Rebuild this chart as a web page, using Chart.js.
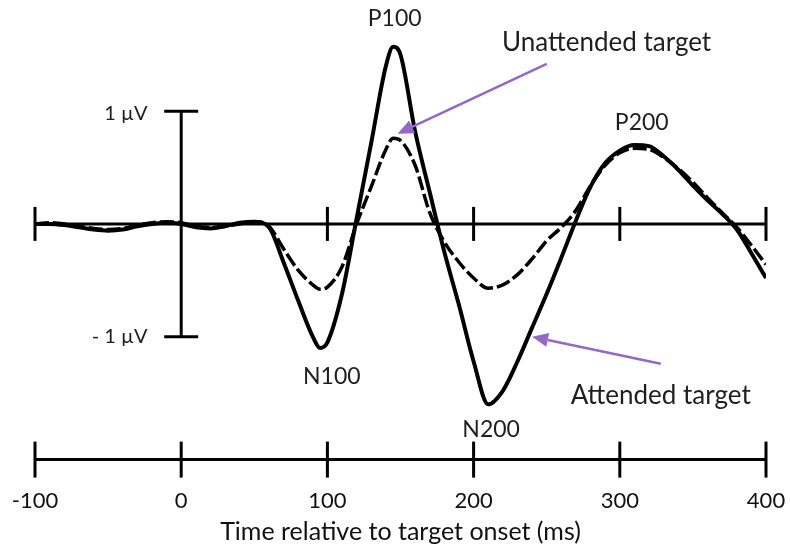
<!DOCTYPE html>
<html>
<head>
<meta charset="utf-8">
<script src="https://cdn.jsdelivr.net/npm/chart.js@4.4.1/dist/chart.umd.min.js"></script>
<style>
  body { margin: 0; background: #fff; }
  #erpChart { display: block; }
</style>
</head>
<body>
<canvas id="erpChart" width="790" height="551"></canvas>
<script>
// time points (ms) and amplitudes (µV)
var times = [-100, -90, -80, -70, -60, -50, -40, -30, -20, -10, 0, 10, 20, 30, 40, 50, 60, 70, 80, 90, 95,
  100, 110, 120, 130, 140, 145, 150, 160, 170, 180, 190, 200, 210, 220, 230, 240, 250, 260, 270, 280,
  290, 300, 310, 320, 330, 340, 350, 360, 370, 380, 390, 400];
var attended = [0.0, 0.0, -0.01, -0.03, -0.05, -0.06, -0.05, -0.02, 0.0, 0.01, 0.0, -0.03, -0.04, -0.02, 0.01, 0.02, -0.03, -0.34, -0.68, -1.00, -1.10,
  -1.05, -0.62, 0.05, 0.72, 1.40, 1.57, 1.50, 0.82, 0.28, -0.25, -0.72, -1.22, -1.60, -1.48, -1.22, -0.92, -0.62, -0.30, 0.03, 0.33,
  0.54, 0.65, 0.70, 0.69, 0.60, 0.48, 0.34, 0.21, 0.09, -0.05, -0.26, -0.48];
var unattended = [0.0, 0.01, 0.0, -0.02, -0.04, -0.05, -0.04, -0.01, 0.01, 0.02, 0.01, -0.02, -0.03, -0.02, 0.0, 0.02, -0.02, -0.22, -0.41, -0.54, -0.58,
  -0.56, -0.38, 0.0, 0.33, 0.66, 0.76, 0.74, 0.52, 0.10, -0.16, -0.34, -0.48, -0.57, -0.54, -0.45, -0.31, -0.15, -0.03, 0.12, 0.34,
  0.52, 0.63, 0.67, 0.66, 0.59, 0.49, 0.37, 0.23, 0.10, -0.03, -0.19, -0.36];
var timeTicks = [-100, 0, 100, 200, 300, 400];

// text labels and arrows, in data coordinates
var labels = [
  { text: 'P100', x: 146, y: 1.82, size: 23, align: 'center' },
  { text: 'Unattended target', x: 291, y: 1.61, size: 26, align: 'center' },
  { text: 'P200', x: 315, y: 0.90, size: 23, align: 'center' },
  { text: 'N100', x: 103, y: -1.35, size: 23, align: 'center' },
  { text: 'N200', x: 212, y: -1.82, size: 23, align: 'center' },
  { text: 'Attended target', x: 328, y: -1.52, size: 26, align: 'center' },
  { text: '1 µV', x: -23, y: 0.98, size: 20, align: 'right' },
  { text: '- 1 µV', x: -23, y: -1.0, size: 20, align: 'right' }
];
var arrows = [
  { from: [250, 1.42], to: [148, 0.80] },
  { from: [328, -1.24], to: [240, -1.0] }
];

function toPoints(ys) {
  return times.map(function (t, i) { return { x: t, y: ys[i] }; });
}

var overlay = {
  id: 'overlay',
  beforeDatasetsDraw: function (chart) {
    var ctx = chart.ctx, x = chart.scales.x, y = chart.scales.y;
    var y0 = y.getPixelForValue(0);
    var axisY = chart.chartArea.bottom;
    function seg(x1, y1, x2, y2) {
      ctx.beginPath(); ctx.moveTo(x1, y1); ctx.lineTo(x2, y2); ctx.stroke();
    }
    ctx.save();
    ctx.strokeStyle = '#000';
    ctx.lineWidth = 3;
    seg(x.getPixelForValue(-100), y0, x.getPixelForValue(400), y0);
    timeTicks.forEach(function (v) {
      var px = x.getPixelForValue(v);
      if (v !== 0) seg(px, y0 - 17, px, y0 + 17);
      seg(px, axisY - 18, px, axisY + 18);
    });
    // 1 µV scale bar at time zero
    var px0 = x.getPixelForValue(0);
    var yTop = y.getPixelForValue(1), yBot = y.getPixelForValue(-1);
    seg(px0, yTop, px0, yBot);
    seg(px0 - 17, yTop, px0 + 17, yTop);
    seg(px0 - 17, yBot, px0 + 17, yBot);
    ctx.restore();
  },
  afterDatasetsDraw: function (chart) {
    var ctx = chart.ctx, x = chart.scales.x, y = chart.scales.y;
    ctx.save();
    ctx.fillStyle = '#1e1e1e';
    ctx.textBaseline = 'middle';
    labels.forEach(function (l) {
      ctx.font = l.size + 'px Lato';
      ctx.textAlign = l.align;
      ctx.fillText(l.text, x.getPixelForValue(l.x), y.getPixelForValue(l.y));
    });
    ctx.strokeStyle = '#9467c9';
    ctx.fillStyle = '#9467c9';
    ctx.lineWidth = 2.5;
    arrows.forEach(function (a) {
      var x1 = x.getPixelForValue(a.from[0]), y1 = y.getPixelForValue(a.from[1]);
      var x2 = x.getPixelForValue(a.to[0]), y2 = y.getPixelForValue(a.to[1]);
      var ang = Math.atan2(y2 - y1, x2 - x1);
      var hl = 16, hw = 7;
      var bx = x2 - hl * Math.cos(ang), by = y2 - hl * Math.sin(ang);
      ctx.beginPath(); ctx.moveTo(x1, y1); ctx.lineTo(bx, by); ctx.stroke();
      ctx.beginPath();
      ctx.moveTo(x2, y2);
      ctx.lineTo(bx + hw * Math.sin(ang), by - hw * Math.cos(ang));
      ctx.lineTo(bx - hw * Math.sin(ang), by + hw * Math.cos(ang));
      ctx.closePath(); ctx.fill();
    });
    ctx.restore();
  }
};

var ctx = document.getElementById('erpChart').getContext('2d');
var erpChart = new Chart(ctx, {
  type: 'line',
  data: {
    datasets: [{
      label: 'Attended target',
      data: toPoints(attended),
      borderColor: '#000',
      borderWidth: 4,
      pointRadius: 0,
      cubicInterpolationMode: 'monotone',
      fill: false
    }, {
      label: 'Unattended target',
      data: toPoints(unattended),
      borderColor: '#000',
      borderWidth: 3.5,
      borderDash: [14, 4],
      pointRadius: 0,
      cubicInterpolationMode: 'monotone',
      fill: false
    }]
  },
  options: {
    responsive: false,
    animation: false,
    devicePixelRatio: 1,
    layout: { padding: { left: 35, right: 24, top: 4, bottom: 0 } },
    plugins: { legend: { display: false }, tooltip: { enabled: false } },
    scales: {
      x: {
        type: 'linear',
        min: -100,
        max: 400,
        // invisible tick marks only reserve room above the labels
        grid: { display: true, drawOnChartArea: false, drawTicks: true, tickLength: 25, tickColor: 'rgba(0,0,0,0)' },
        border: { display: true, color: '#000', width: 3 },
        ticks: {
          stepSize: 100,
          padding: 3,
          maxRotation: 0,
          color: '#111',
          font: { family: 'Lato', size: 22 }
        },
        title: {
          display: true,
          text: 'Time relative to target onset (ms)',
          color: '#111',
          font: { family: 'Lato', size: 25 },
          padding: { top: 0, bottom: 4 }
        }
      },
      y: {
        display: false,
        min: -2.09,
        max: 1.95
      }
    }
  },
  plugins: [overlay]
});
</script>
</body>
</html>
